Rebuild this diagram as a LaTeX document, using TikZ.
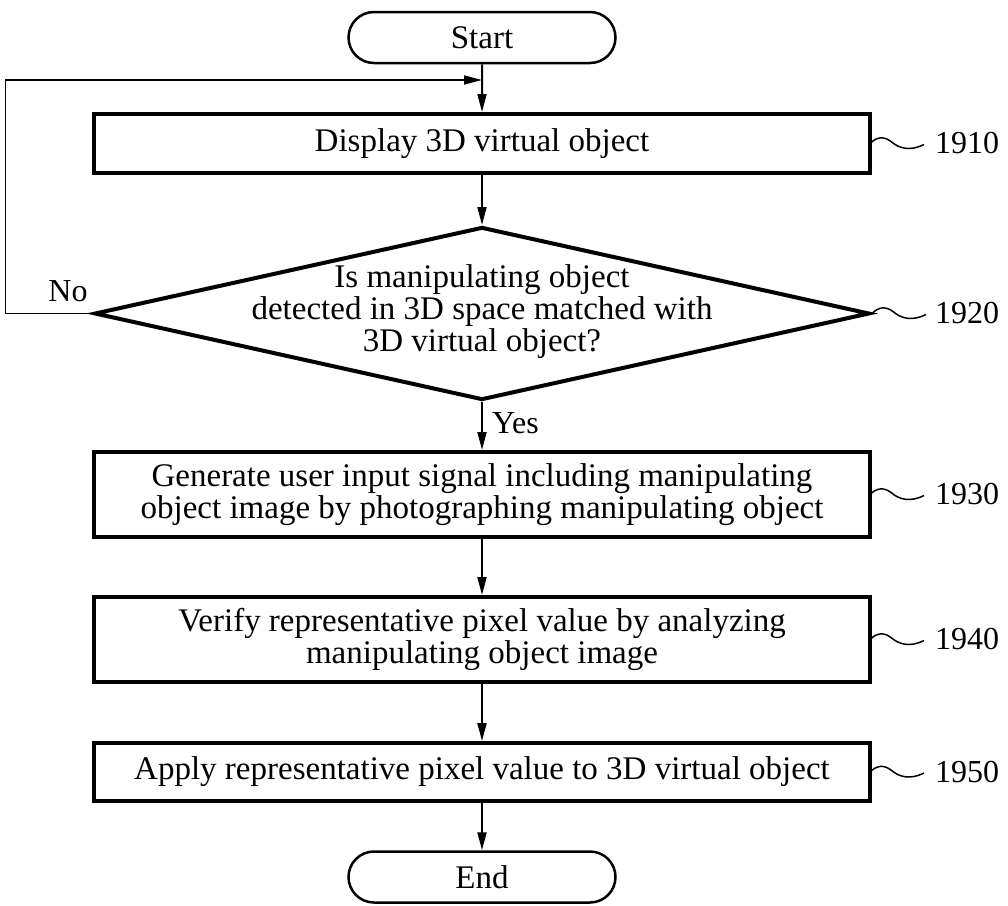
\documentclass[tikz,border=0pt]{standalone}
\usepackage{fontspec}
\setmainfont{Liberation Serif}
\usetikzlibrary{arrows.meta,shapes.geometric,shapes.misc}
\begin{document}
\begin{tikzpicture}[x=1pt,y=-1pt,
  every node/.style={font=\fontsize{33}{32}\selectfont},
  term/.style={draw, rounded rectangle, line width=2.5pt, minimum width=267pt, minimum height=51pt, inner sep=0pt},
  proc/.style={draw, rectangle, line width=4pt, minimum width=776pt, inner sep=0pt, align=center},
  dec/.style={draw, diamond, line width=4pt, minimum width=775pt, minimum height=173pt, inner sep=0pt},
  conn/.style={line width=2pt, -{Triangle[length=18pt,width=9pt]}},
  lbl/.style={anchor=west, inner sep=0pt, font=\fontsize{32}{32}\selectfont},
  squig/.pic={\draw[line width=1.5pt] (0,0) .. controls (6,-6) and (13,-8) .. (21,-2) .. controls (29,5) and (40,8) .. (54,1);}
]
\useasboundingbox (0,0) rectangle (1008,905);

\node[term] (start) at (482,37.5) {Start};
\node[proc, minimum height=59pt] (b1910) at (482,143.5) {Display 3D virtual object};
\node[dec] (dec) at (482,313.5) {};
\node[align=center] (dectext) at (482,312) {Is manipulating object\\detected in 3D space matched with\\3D virtual object?};
\node[proc, minimum height=85pt] (b1930) at (482,494.5) {Generate user input signal including manipulating\\object image by photographing manipulating object};
\node[proc, minimum height=85pt] (b1940) at (482,639.5) {Verify representative pixel value by analyzing\\manipulating object image};
\node[proc, minimum height=58pt] (b1950) at (482,772) {Apply representative pixel value to 3D virtual object};
\node[term] (end) at (482,877) {End};

\coordinate (loopin) at (482,80);

\draw[conn] (start) -- (b1910);
\draw[conn] (b1910) -- (dec);
\draw[conn] (dec) -- (b1930);
\draw[conn] (b1930) -- (b1940);
\draw[conn] (b1940) -- (b1950);
\draw[conn] (b1950) -- (end);
\draw[conn, line width=1.5pt] (dec.west) -- ++(-87,0) |- (loopin);

\node[lbl, anchor=center] (no) at (68,291) {No};
\node[lbl] (yes) at (492,423) {Yes};

\pic at (870,143.5) {squig};
\pic at (872,313.5) {squig};
\pic at (870,494.5) {squig};
\pic at (870,639.5) {squig};
\pic at (870,772) {squig};

\node[lbl] (l1910) at (935,143.5) {1910};
\node[lbl] (l1920) at (935,313.5) {1920};
\node[lbl] (l1930) at (935,494.5) {1930};
\node[lbl] (l1940) at (935,639.5) {1940};
\node[lbl] (l1950) at (935,772) {1950};
\end{tikzpicture}
\end{document}
